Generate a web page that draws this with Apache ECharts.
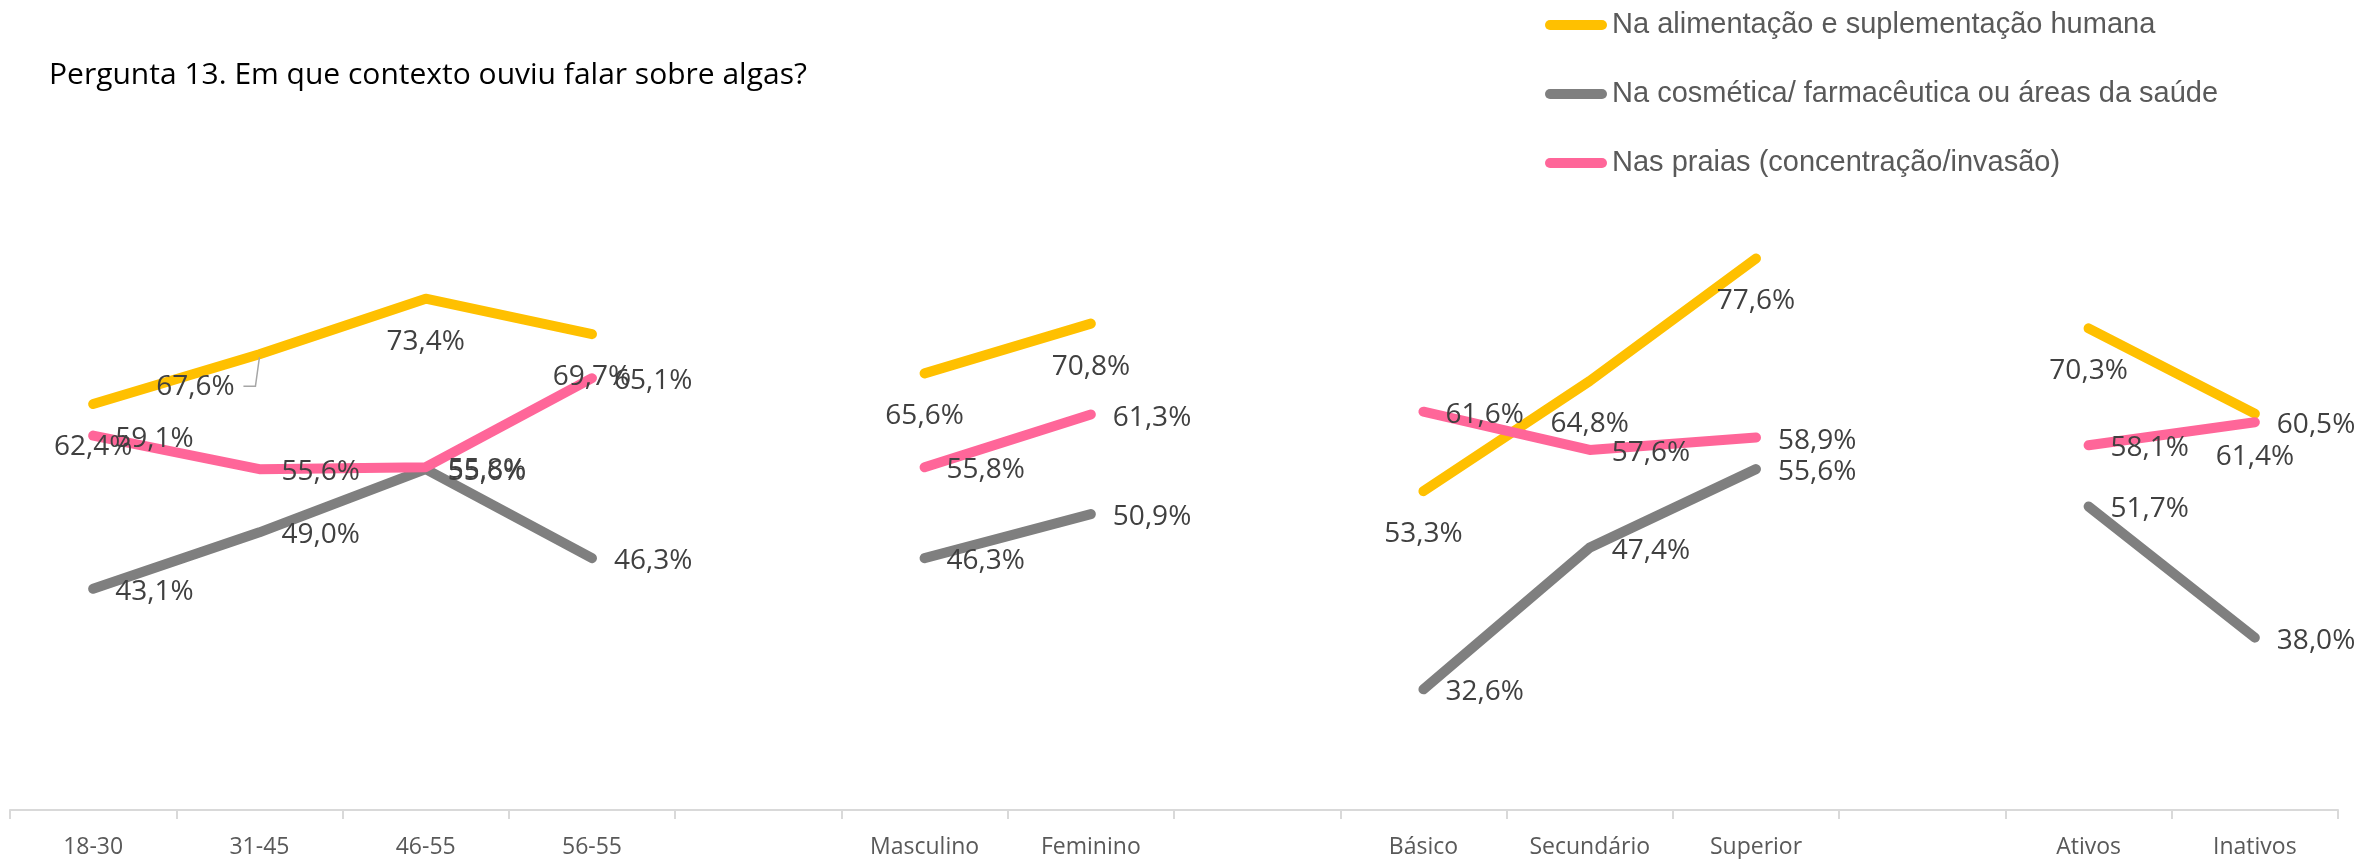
<!DOCTYPE html>
<html>
<head>
<meta charset="utf-8">
<script src="https://cdn.jsdelivr.net/npm/echarts@6/dist/echarts.min.js"></script>
<style>
  html, body {margin: 0; padding: 0; background: #fff;}
  #chart {width: 2361px; height: 859px;}
</style>
</head>
<body>
<div id="chart"></div>
<script>
// Pergunta 13 — three answer series split by age, sex, education and occupation.
// Empty category slots separate the groups so each line breaks between them.
const categories = [
  "18-30", "31-45", "46-55", "56-55", "",
  "Masculino", "Feminino", "",
  "Básico", "Secundário", "Superior", "",
  "Ativos", "Inativos",
]

const alimentacao = [62.4, 67.6, 73.4, 69.7, null, 65.6, 70.8, null, 53.3, 64.8, 77.6, null, 70.3, 61.4]
const cosmetica = [43.1, 49.0, 55.6, 46.3, null, 46.3, 50.9, null, 32.6, 47.4, 55.6, null, 51.7, 38.0]
const praias = [59.1, 55.6, 55.8, 65.1, null, 55.8, 61.3, null, 61.6, 57.6, 58.9, null, 58.1, 60.5]

const names = [
  "Na alimentação e suplementação humana",
  "Na cosmética/ farmacêutica ou áreas da saúde",
  "Nas praias (concentração/invasão)",
]

const YELLOW = "#FFC000"
const GREY = "#7F7F7F"
const PINK = "#FF6699"
const LABEL_INK = "#404040"
const AXIS_INK = "#595959"
const HAIRLINE = "#D9D9D9"
const LEADER = "#A6A6A6"

// the one label that was dragged off its point in the original
const MOVED = 1

const pct = (p) => p.value.toFixed(1).replace(".", ",") + "%"

const labelBase = {
  show: true,
  formatter: pct,
  color: LABEL_INK,
  fontFamily: "'Open Sans', sans-serif",
  fontSize: 28,
}

function lineSeries(name, values, color, position, distance, offset) {
  return {
    name,
    type: "line",
    data: values,
    symbol: "circle",
    symbolSize: 0,
    connectNulls: false,
    lineStyle: {color, width: 10, cap: "round", join: "round"},
    itemStyle: {color},
    label: {...labelBase, position, distance, offset},
    emphasis: {disabled: true},
  }
}

const yellowSeries = lineSeries(names[0], alimentacao, YELLOW, "bottom", 29, [0, 0])
yellowSeries.labelLayout = (p) => (p.dataIndex === MOVED ? {dx: -64, dy: -10} : {})

const chart = echarts.init(document.getElementById("chart"), null, {renderer: "canvas"})

chart.setOption({
  animation: false,
  title: {
    text: "Pergunta 13. Em que contexto ouviu falar sobre algas?",
    left: 49,
    top: 60,
    padding: 0,
    textStyle: {color: "#000", fontFamily: "'Open Sans', sans-serif", fontSize: 30, fontWeight: "normal"},
  },
  legend: {
    orient: "vertical",
    left: 1545,
    top: 10,
    padding: 0,
    itemWidth: 62,
    itemHeight: 11,
    itemGap: 39,
    itemTextGap: 9,
    icon: "path://M5,0 H57 A5,5 0 0 1 57,10 H5 A5,5 0 0 1 5,0 Z",
    textStyle: {color: AXIS_INK, fontFamily: "'Liberation Sans', Arial, sans-serif", fontSize: 29, lineHeight: 30},
    data: names,
  },
  grid: {left: 10, right: 23, top: 44, bottom: 46, containLabel: false},
  xAxis: {
    type: "category",
    data: categories,
    boundaryGap: true,
    axisLine: {lineStyle: {color: HAIRLINE, width: 2}},
    axisTick: {show: true, length: 9, lineStyle: {color: HAIRLINE, width: 2}},
    axisLabel: {
      color: AXIS_INK,
      fontFamily: "'Open Sans', sans-serif",
      fontSize: 23,
      margin: 26,
      interval: 0,
    },
    splitLine: {show: false},
  },
  yAxis: {type: "value", min: 20, max: 100, show: false},
  series: [
    yellowSeries,
    lineSeries(names[1], cosmetica, GREY, "right", 22, [0, 3]),
    lineSeries(names[2], praias, PINK, "right", 22, [0, 3]),
  ],
})

// Leader line from the moved 67,6% label back to its point, placed from the axis scale.
const [px, py] = chart.convertToPixel({seriesIndex: 0}, [MOVED, alimentacao[MOVED]])
chart.setOption({
  graphic: [{
    type: "polyline",
    z: 100,
    shape: {points: [[px - 16, py + 32], [px - 4, py + 32], [px, py + 3]]},
    style: {stroke: LEADER, lineWidth: 1.5, fill: null},
  }],
})
</script>
</body>
</html>
